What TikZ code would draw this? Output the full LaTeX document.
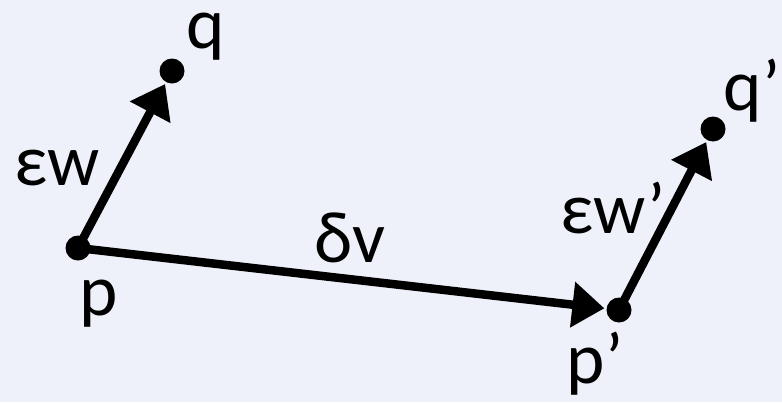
\documentclass[tikz,border=0pt]{standalone}
\usepackage{fontspec}
\setmainfont{Carlito}
\usetikzlibrary{arrows.meta}
\definecolor{bgcol}{RGB}{239,241,250}
\tikzset{
  dot/.style={circle,fill=black,inner sep=0pt,minimum size=25pt},
  vec/.style={line width=8.5pt,-{Triangle[length=32pt,width=44pt]},shorten >=2pt},
  lbl/.style={font=\fontsize{73}{73}\selectfont,inner sep=0pt,anchor=base}
}
\begin{document}
\begin{tikzpicture}[x=1pt,y=-1pt]
\fill[bgcol] (0,0) rectangle (782,402);
\useasboundingbox (0,0) rectangle (782,402);
\node[dot] (p) at (78,248) {};
\node[dot] (q) at (172,71) {};
\node[dot] (pp) at (619,310) {};
\node[dot] (qq) at (713,129) {};
\draw[vec] (p.center) -- (q);
\draw[vec] (p.center) -- (pp);
\draw[vec] (pp.center) -- (qq);
\node[lbl] (lq) at (206,48) {q};
\node[lbl] (lew) at (57,185) {εw};
\node[lbl] (lp) at (99,315) {p};
\node[lbl] (ldv) at (350,262) {δv};
\node[lbl] (lpp) at (595,383) {p’};
\node[lbl] (leww) at (613,233) {εw’};
\node[lbl] (lqq) at (752,110) {q’};
\end{tikzpicture}
\end{document}
